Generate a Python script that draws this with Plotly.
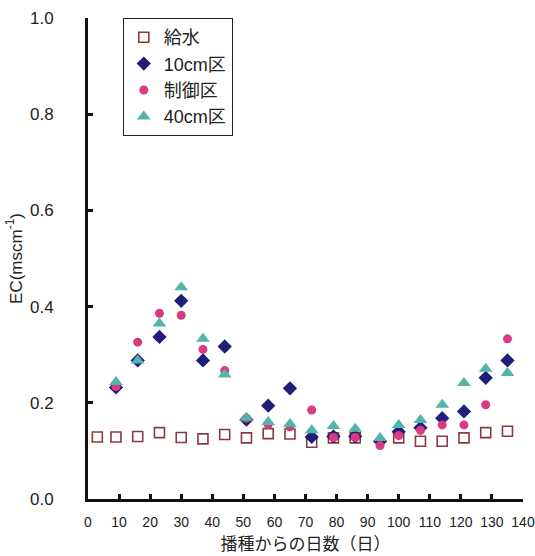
import plotly.graph_objects as go

# Days after sowing
days_water = [3, 9, 16, 23, 30, 37, 44, 51, 58, 65, 72, 79, 86, 94, 100, 107, 114, 121, 128, 135]
days = [9, 16, 23, 30, 37, 44, 51, 58, 65, 72, 79, 86, 94, 100, 107, 114, 121, 128, 135]

# 給水 (supply water)
ec_water = [0.129, 0.129, 0.130, 0.138, 0.128, 0.125, 0.134, 0.127, 0.136, 0.135,
            0.118, 0.127, 0.127, None, 0.127, 0.120, 0.120, 0.127, 0.138, 0.141]
# 10cm区
ec_10cm = [0.232, 0.288, 0.337, 0.412, 0.288, 0.317, 0.165, 0.194, 0.230, 0.129,
           0.130, 0.130, 0.120, 0.140, 0.148, 0.168, 0.182, 0.252, 0.288]
# 制御区
ec_ctrl = [0.234, 0.326, 0.386, 0.382, 0.311, 0.267, 0.168, 0.155, 0.150, 0.185,
           0.128, 0.128, 0.111, 0.132, 0.143, 0.154, 0.154, 0.196, 0.333]
# 40cm区
ec_40cm = [0.243, 0.288, 0.365, 0.440, 0.333, 0.259, 0.169, 0.160, 0.156, 0.143,
           0.152, 0.146, 0.127, 0.154, 0.164, 0.196, 0.241, 0.271, 0.262]

x_ticks = [0, 10, 20, 30, 40, 50, 60, 70, 80, 90, 100, 110, 120, 130, 140]
y_ticks = [0.0, 0.2, 0.4, 0.6, 0.8, 1.0]

FONT = "Liberation Sans, Arial, Noto Sans CJK JP, sans-serif"

fig = go.Figure()
fig.add_trace(go.Scatter(
    x=days_water, y=ec_water, mode="markers", name="給水",
    marker=dict(symbol="square-open", size=10, color="#8b3a3e", line=dict(width=1.6, color="#8b3a3e")),
))
fig.add_trace(go.Scatter(
    x=days, y=ec_10cm, mode="markers", name="10cm区",
    marker=dict(symbol="diamond", size=11, color="#1f1f7a"),
))
fig.add_trace(go.Scatter(
    x=days, y=ec_ctrl, mode="markers", name="制御区",
    marker=dict(symbol="circle", size=9, color="#d93a80"),
))
fig.add_trace(go.Scatter(
    x=days, y=ec_40cm, mode="markers", name="40cm区",
    marker=dict(symbol="triangle-up", size=12, color="#52b5aa"),
))

fig.update_layout(
    width=535, height=556,
    paper_bgcolor="white", plot_bgcolor="white",
    margin=dict(l=88, r=12, t=18, b=57, autoexpand=False),
    font=dict(family=FONT, color="#222"),
    showlegend=True,
    legend=dict(
        x=0.08, y=1.0, xanchor="left", yanchor="top",
        bordercolor="#222", borderwidth=1, bgcolor="white",
        font=dict(size=18, family=FONT, color="#222"),
        tracegroupgap=0, itemwidth=30,
        entrywidth=95, entrywidthmode="pixels",
    ),
    xaxis=dict(
        range=[0, 140], tickvals=x_ticks, ticktext=[str(v) for v in x_ticks],
        showline=True, linewidth=3, linecolor="#111", mirror=False,
        ticks="inside", ticklen=5, tickwidth=3, tickcolor="#111",
        showgrid=False, zeroline=False, automargin=False,
        tickfont=dict(size=14, family=FONT, color="#222"),
        ticklabelstandoff=8,
        title=dict(text="播種からの日数（日）", font=dict(size=17, family="Noto Sans CJK JP, sans-serif", color="#222"), standoff=7),
    ),
    yaxis=dict(
        range=[0, 1.0], tickvals=y_ticks, ticktext=[f"{v:.1f}" for v in y_ticks],
        showline=True, linewidth=3, linecolor="#111", mirror=False,
        ticks="inside", ticklen=5, tickwidth=3, tickcolor="#111",
        showgrid=False, zeroline=False, automargin=False,
        tickfont=dict(size=17, family=FONT, color="#222"),
        ticklabelstandoff=28,
        title=dict(text="EC(mscm<sup>-1</sup>)", font=dict(size=17, family=FONT, color="#222"), standoff=4),
    ),
)

fig.write_html("out.html", config={"displayModeBar": False},
               post_script="document.body.style.margin='0';document.body.style.padding='0';")
